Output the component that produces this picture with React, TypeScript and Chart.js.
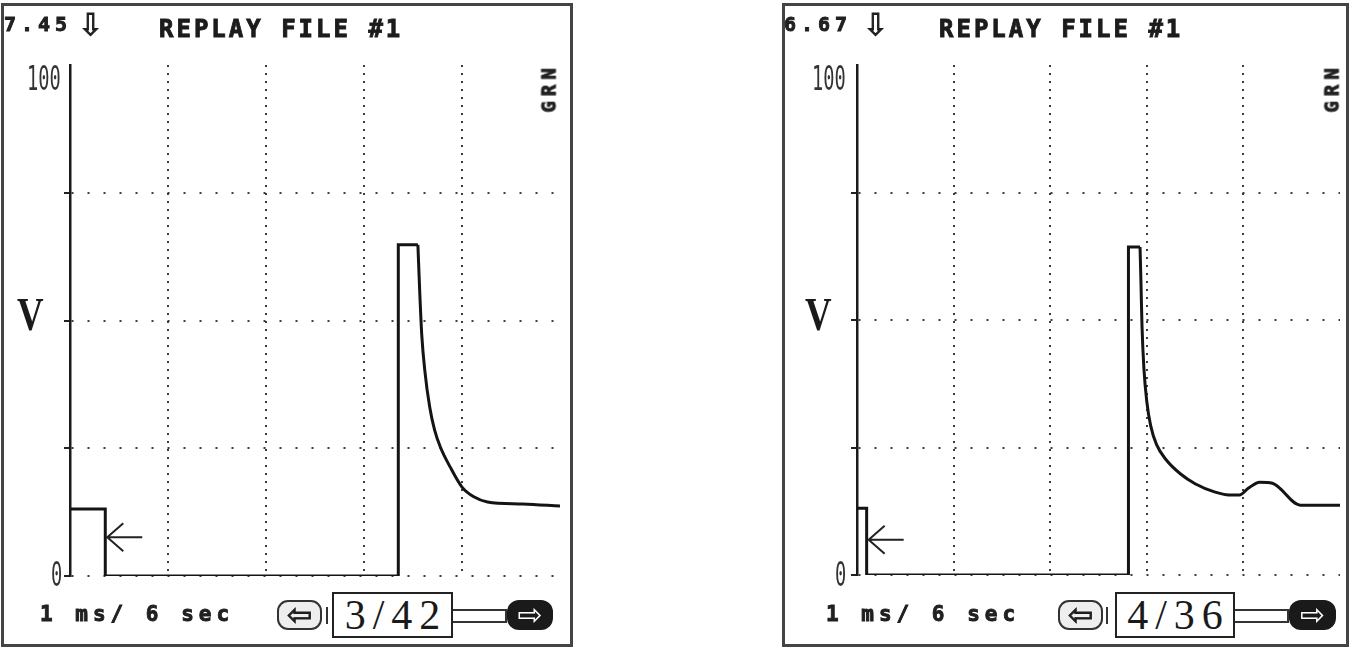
import React, { useEffect, useRef } from 'react';
import { Chart, registerables } from 'chart.js';

Chart.register(...registerables);

// ---------- data ----------
const X_MIN = 0;
const X_MAX = 5; // 5 time divisions
const Y_MIN = 0;
const Y_MAX = 100;
const Y_STEP = 25;
const Y_TICK_LABELS = ['0', '', '', '', '100'];
const Y_UNIT = 'V';
const CHANNEL = 'GRN';
const TITLE = 'REPLAY FILE #1';
const TIMEBASE = '1 ms/ 6 sec';

// left screen (frame 3 of 42)
const LEFT_READING = '7.45';
const LEFT_FRAME = '3/42';
const LEFT_STEP_X = [0, 0.36, 0.36, 3.35, 3.35, 3.55];
const LEFT_STEP_Y = [13.1, 13.1, 0, 0, 64.8, 64.8];
const LEFT_DECAY_X = [3.55, 3.57, 3.59, 3.62, 3.67, 3.72, 3.78, 3.88, 4.0, 4.12, 4.26, 4.62, 5.0];
const LEFT_DECAY_Y = [64.8, 55.0, 47.0, 40.3, 33.1, 28.6, 25.2, 21.3, 17.4, 15.5, 14.5, 14.1, 13.7];
const LEFT_TRIGGER = [0.36, 7.6];

// right screen (frame 4 of 36)
const RIGHT_READING = '6.67';
const RIGHT_FRAME = '4/36';
const RIGHT_STEP_X = [0, 0.1, 0.1, 2.81, 2.81, 2.93];
const RIGHT_STEP_Y = [13.1, 13.1, 0, 0, 64.3, 64.3];
const RIGHT_DECAY_X = [2.93, 2.94, 2.95, 2.97, 3.0, 3.04, 3.1, 3.2, 3.35, 3.5, 3.7, 3.85, 3.96, 4.05, 4.17, 4.3, 4.59, 5.0];
const RIGHT_DECAY_Y = [64.3, 57.0, 49.0, 40.5, 34.0, 29.3, 25.6, 22.6, 19.8, 17.9, 16.3, 15.7, 15.7, 17.0, 18.2, 18.0, 13.7, 13.7];
const RIGHT_TRIGGER = [0.1, 6.9];

// ---------- helpers ----------
const zip = (xs: number[], ys: number[]) => xs.map((x, i) => ({ x, y: ys[i] }));

const triggerArrow = {
  id: 'triggerArrow',
  afterDatasetsDraw(chart: any, _args: any, opts: any) {
    if (!opts || opts.x == null) return;
    const { ctx } = chart;
    const xs = chart.scales.x;
    const ys = chart.scales.y;
    const px = xs.getPixelForValue(opts.x) + 2;
    const py = ys.getPixelForValue(opts.y);
    ctx.save();
    ctx.strokeStyle = '#222';
    ctx.lineWidth = 2;
    ctx.beginPath();
    ctx.moveTo(px, py);
    ctx.lineTo(px + 35, py);
    ctx.moveTo(px + 16, py - 14);
    ctx.lineTo(px, py);
    ctx.lineTo(px + 16, py + 14);
    ctx.stroke();
    ctx.restore();
  },
};

type Geo = {
  frameX: number; frameW: number;
  canvasX: number; canvasW: number;
  areaL: number; areaR: number; areaT: number; areaB: number;
  readX: number; arrowX: number; titleX: number; grnX: number;
  hundredX: number; vX: number; zeroX: number; timeX: number;
  btnLX: number; barX: number; boxX: number; boxW: number; rectX: number; rectW: number; btnRX: number; btnRW: number;
};

type PanelProps = {
  geo: Geo;
  reading: string;
  frame: string;
  stepX: number[]; stepY: number[];
  decayX: number[]; decayY: number[];
  trigger: number[];
};

const H = 649;

function ScopeCanvas({ geo, stepX, stepY, decayX, decayY, trigger }: PanelProps) {
  const ref = useRef<HTMLCanvasElement>(null);
  useEffect(() => {
    const canvas = ref.current;
    if (!canvas) return;
    const chart = new Chart(canvas, {
      type: 'line',
      data: {
        datasets: [
          {
            data: zip(stepX, stepY),
            borderColor: '#141414',
            borderWidth: 3,
            pointRadius: 0,
            tension: 0,
            fill: false,
            borderJoinStyle: 'miter',
          } as any,
          {
            data: zip(decayX, decayY),
            borderColor: '#141414',
            borderWidth: 3,
            pointRadius: 0,
            cubicInterpolationMode: 'monotone',
            fill: false,
          } as any,
        ],
      },
      options: {
        animation: false,
        responsive: false,
        maintainAspectRatio: false,
        events: [],
        layout: {
          padding: { left: 0, top: geo.areaT, right: geo.canvasW - geo.areaR, bottom: H - geo.areaB },
        },
        plugins: {
          legend: { display: false },
          tooltip: { enabled: false },
          triggerArrow: { x: trigger[0], y: trigger[1] },
        } as any,
        scales: {
          x: {
            type: 'linear',
            min: X_MIN,
            max: X_MAX,
            ticks: { display: false, stepSize: 1 },
            grid: {
              color: (c: any) => (c.tick && c.tick.value > X_MIN && c.tick.value < X_MAX ? '#3c3c3c' : 'rgba(0,0,0,0)'),
              lineWidth: 2,
              drawTicks: false,
            },
            border: { display: false, dash: [2, 6] },
            afterFit: (s: any) => { s.height = 0; },
          },
          y: {
            type: 'linear',
            min: Y_MIN,
            max: Y_MAX,
            ticks: { display: false, stepSize: Y_STEP },
            grid: {
              color: (c: any) => (c.tick && c.tick.value < Y_MAX ? '#3c3c3c' : 'rgba(0,0,0,0)'),
              lineWidth: 2,
              drawTicks: true,
              tickLength: 6,
              tickWidth: 2,
              tickColor: (c: any) => (c.tick && c.tick.value < Y_MAX ? '#222' : 'rgba(0,0,0,0)'),
              tickBorderDash: [],
            },
            border: { display: true, color: '#1a1a1a', width: 2.5, dash: [2, 14] },
            afterFit: (s: any) => { s.width = geo.areaL; },
          },
        },
      } as any,
      plugins: [triggerArrow],
    });
    return () => chart.destroy();
  }, []);
  return (
    <canvas
      ref={ref}
      width={geo.canvasW}
      height={H}
      style={{ position: 'absolute', left: geo.canvasX, top: 0, width: geo.canvasW, height: H }}
    />
  );
}

const abs = (left: number, top: number, extra: React.CSSProperties = {}): React.CSSProperties => ({
  position: 'absolute',
  left,
  top,
  lineHeight: 1,
  whiteSpace: 'nowrap',
  margin: 0,
  ...extra,
});

const MONO = "'DejaVu Sans Mono', monospace";
const SERIF = "'Liberation Serif', 'DejaVu Serif', serif";
const HEAVY = { WebkitTextStroke: '0.9px #1c1c1c' } as React.CSSProperties;

function Panel(props: PanelProps) {
  const { geo, reading, frame } = props;
  return (
    <>
      <div
        style={{
          position: 'absolute',
          left: geo.frameX,
          top: 3,
          width: geo.frameW,
          height: 644,
          boxSizing: 'border-box',
          border: '3px solid #444',
          background: '#fff',
        }}
      />
      <ScopeCanvas {...props} />
      <div style={abs(geo.readX, 14, { fontFamily: MONO, fontWeight: 700, fontSize: 20, letterSpacing: 5, color: '#222', ...HEAVY })}>{reading}</div>
      <div style={abs(geo.arrowX, 10, { fontFamily: "'DejaVu Sans', sans-serif", fontSize: 30, color: '#222', ...HEAVY })}>⇩</div>
      <div style={abs(geo.titleX, 17, { fontFamily: MONO, fontWeight: 700, fontSize: 24, letterSpacing: 3, color: '#1c1c1c', ...HEAVY })}>{TITLE}</div>
      <div
        style={abs(geo.grnX, 88, {
          fontFamily: MONO,
          fontWeight: 700,
          fontSize: 19,
          letterSpacing: 5,
          color: '#222',
          transform: 'translate(-50%, -50%) rotate(-90deg)',
          ...HEAVY,
        })}
      >
        {CHANNEL}
      </div>
      <div style={abs(geo.hundredX, 61, { fontFamily: MONO, fontSize: 34, color: '#333', transform: 'scaleX(0.55)', transformOrigin: 'left top' })}>
        {Y_TICK_LABELS[Y_TICK_LABELS.length - 1]}
      </div>
      <div style={abs(geo.zeroX, 557, { fontFamily: MONO, fontSize: 34, color: '#333', transform: 'scaleX(0.55)', transformOrigin: 'left top' })}>
        {Y_TICK_LABELS[0]}
      </div>
      <div style={abs(geo.vX, 292, { fontFamily: SERIF, fontWeight: 700, fontSize: 46, color: '#1a1a1a', transform: 'scaleX(0.8)', transformOrigin: 'left top' })}>
        {Y_UNIT}
      </div>
      <div style={abs(geo.timeX, 604, { fontFamily: MONO, fontWeight: 700, fontSize: 21, letterSpacing: 5, color: '#222', ...HEAVY })}>{TIMEBASE}</div>
      {/* navigation widget */}
      <div
        style={{
          position: 'absolute', left: geo.btnLX, top: 600, width: 45, height: 30, boxSizing: 'border-box',
          border: '2px solid #333', borderRadius: 11, background: '#eee', display: 'flex', alignItems: 'center',
          justifyContent: 'center', fontFamily: "'DejaVu Sans', sans-serif", fontSize: 30, lineHeight: 1, color: '#222',
          overflow: 'hidden', ...HEAVY,
        }}
      >
        ⇦
      </div>
      <div style={{ position: 'absolute', left: geo.barX, top: 607, width: 2, height: 17, background: '#333' }} />
      <div
        style={{
          position: 'absolute', left: geo.boxX, top: 592, width: geo.boxW, height: 46, boxSizing: 'border-box',
          border: '2px solid #222', background: '#fff', display: 'flex', alignItems: 'center', justifyContent: 'center',
          fontFamily: SERIF, fontSize: 42, lineHeight: 1, color: '#1a1a1a', letterSpacing: 7, paddingLeft: 7,
        }}
      >
        {frame}
      </div>
      <div
        style={{
          position: 'absolute', left: geo.rectX, top: 609, width: geo.rectW, height: 14, boxSizing: 'border-box',
          border: '2px solid #333', borderLeft: 'none',
        }}
      />
      <div
        style={{
          position: 'absolute', left: geo.btnRX, top: 600, width: geo.btnRW, height: 30, boxSizing: 'border-box',
          borderRadius: 12, background: '#1a1a1a', display: 'flex', alignItems: 'center', justifyContent: 'center',
          fontFamily: "'DejaVu Sans', sans-serif", fontSize: 30, lineHeight: 1, color: '#fff', overflow: 'hidden',
        }}
      >
        ⇨
      </div>
    </>
  );
}

const LEFT_GEO: Geo = {
  frameX: 1, frameW: 572,
  canvasX: 0, canvasW: 575,
  areaL: 70, areaR: 560, areaT: 65, areaB: 576,
  readX: 4, arrowX: 78, titleX: 159, grnX: 549,
  hundredX: 27, vX: 17, zeroX: 51, timeX: 40,
  btnLX: 277, barX: 326, boxX: 332, boxW: 121, rectX: 453, rectW: 54, btnRX: 507, btnRW: 46,
};

const RIGHT_GEO: Geo = {
  frameX: 782, frameW: 567,
  canvasX: 780, canvasW: 571,
  areaL: 77, areaR: 560, areaT: 65, areaB: 575,
  readX: 784, arrowX: 863, titleX: 939, grnX: 1332,
  hundredX: 812, vX: 805, zeroX: 835, timeX: 826,
  btnLX: 1058, barX: 1106, boxX: 1115, boxW: 120, rectX: 1235, rectW: 54, btnRX: 1289, btnRW: 47,
};

export default function App() {
  return (
    <div style={{ position: 'absolute', left: 0, top: 0, width: 1351, height: H, background: '#fff', overflow: 'hidden' }}>
      <Panel
        geo={LEFT_GEO}
        reading={LEFT_READING}
        frame={LEFT_FRAME}
        stepX={LEFT_STEP_X}
        stepY={LEFT_STEP_Y}
        decayX={LEFT_DECAY_X}
        decayY={LEFT_DECAY_Y}
        trigger={LEFT_TRIGGER}
      />
      <Panel
        geo={RIGHT_GEO}
        reading={RIGHT_READING}
        frame={RIGHT_FRAME}
        stepX={RIGHT_STEP_X}
        stepY={RIGHT_STEP_Y}
        decayX={RIGHT_DECAY_X}
        decayY={RIGHT_DECAY_Y}
        trigger={RIGHT_TRIGGER}
      />
    </div>
  );
}
